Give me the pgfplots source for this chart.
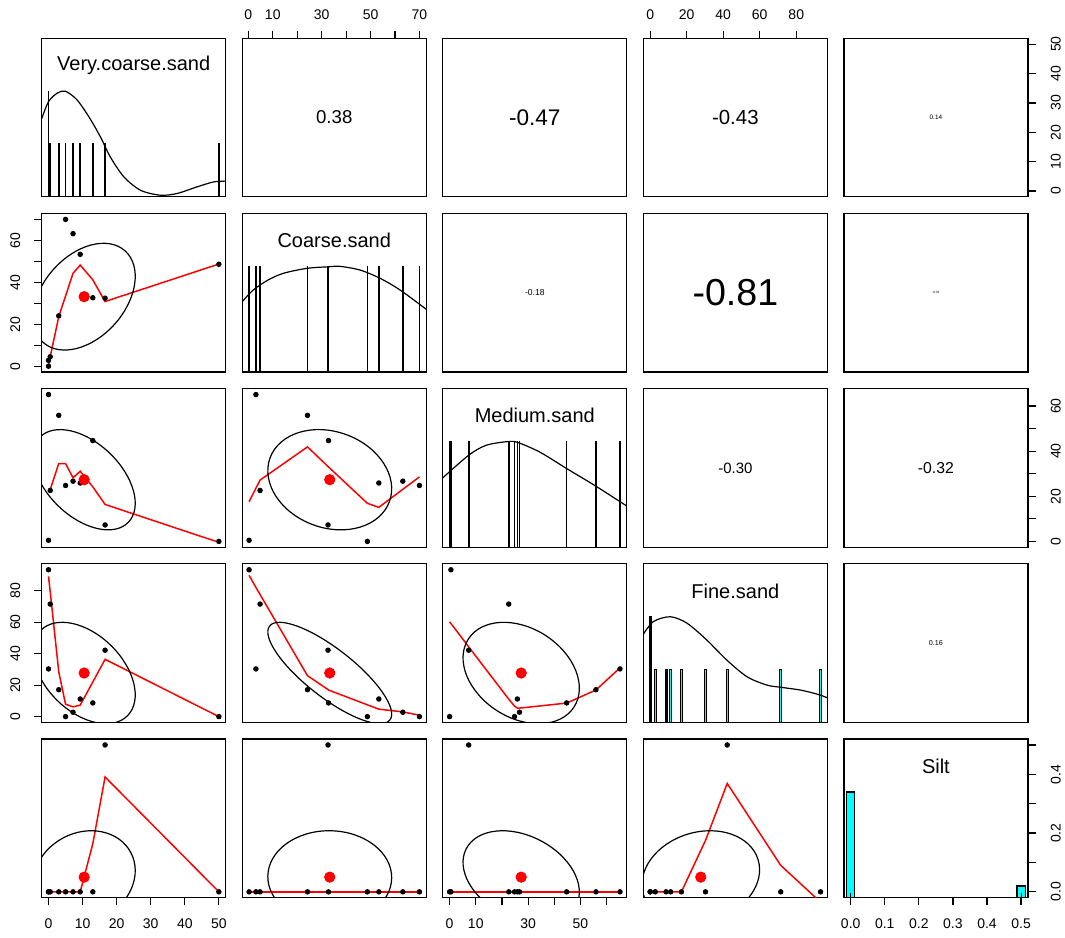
\documentclass[border=0pt]{standalone}
\usepackage{pgfplots}
\pgfplotsset{compat=1.18}
\usepackage{fontspec}
\setmainfont{Liberation Sans}

\definecolor{histcol}{RGB}{0,255,255}

\pgfplotsset{
  panel/.style={
    scale only axis, width=92pt, height=79.3pt, anchor=south west,
    xtick=\empty, ytick=\empty,
    axis line style={line width=0.6pt},
    tick style={line width=0.6pt, black},
    major tick length=3.8pt, tick align=outside,
    every tick label/.append style={font=\fontsize{7}{8}\selectfont, inner sep=0pt},
  },
  vx/.style={xmin=-2,xmax=52}, vy/.style={ymin=-2,ymax=52},
  cx/.style={xmin=-2.49,xmax=72.79}, cy/.style={ymin=-2.49,ymax=72.79},
  mx/.style={xmin=-2.6,xmax=67.7}, my/.style={ymin=-2.6,ymax=67.7},
  fx/.style={xmin=-3.73,xmax=97.03}, fy/.style={ymin=-3.73,ymax=97.03},
  sx/.style={xmin=-0.02,xmax=0.52}, sy/.style={ymin=-0.02,ymax=0.52},
  dy/.style={ymin=0,ymax=1.5},
  nox/.style={xmin=0,xmax=1}, noy/.style={ymin=0,ymax=1},
  pts/.style={only marks, mark=*, mark size=1.15pt, black},
  mean/.style={only marks, mark=*, mark size=2.6pt, red},
  smo/.style={draw=red, line width=0.75pt, mark=none},
  dens/.style={black, line width=0.6pt, smooth, mark=none},
  hist/.style={ybar, bar shift=0pt, fill=histcol, draw=black, line width=0.6pt},
  rugs/.style={ycomb, black, line width=0.3pt, mark=none},
  topax/.style={xtick pos=right, xticklabel shift=5.4pt},
  botax/.style={xtick pos=left, xticklabel shift=6.4pt},
  leftax/.style={ytick pos=left, yticklabel shift=6.7pt, yticklabel style={rotate=90, anchor=south}},
  rightax/.style={ytick pos=right, yticklabel shift=7.5pt, yticklabel style={rotate=90, anchor=north}},
}
% correlation text, size grows with |r|
\newcommand\corr[2]{\node[font=\fontsize{#1}{#1}\selectfont] at (rel axis cs:0.5,0.5) {#2};}
% correlation ellipse: centre x, centre y, semi axes (pt), angle
\newcommand\ellip[5]{\draw[black, line width=0.6pt, rotate around={#5:(axis cs:#1,#2)}] (axis cs:#1,#2) ellipse [x radius=#3pt, y radius=#4pt];}
\newcommand\vname[1]{\node[font=\fontsize{10}{12}\selectfont] at (rel axis cs:0.5,0.83) {#1};}

\begin{document}
\begin{tikzpicture}
\useasboundingbox (0,0) rectangle (532.5pt,468.5pt);

%%%%%%%%%%%%%%%% row 1
\begin{axis}[panel, vx, dy, at={(20.85pt,370.05pt)}]
  \addplot[hist, bar width=0.195] coordinates {(0,1) (0.5,0.5) (3,0.5) (5,0.5) (7.2,0.5) (9.3,0.5) (13,0.5) (16.6,0.5) (50,0.5)};
  \addplot[dens] coordinates {(-2,0.74) (0,0.90) (2.5,0.98) (4.9,1.0) (8.3,0.92) (11.8,0.76) (15.2,0.57) (18.1,0.38) (22.1,0.19) (27,0.063) (32.8,0.016) (37.7,0.032) (43.6,0.095) (48.5,0.142) (52,0.149)};
  \vname{Very.coarse.sand}
\end{axis}
\begin{axis}[panel, cx, noy, at={(121.125pt,370.05pt)}, topax, xtick={0,10,...,70}, xticklabels={0,10,,30,,50,,70}]
  \corr{9.3}{0.38}
\end{axis}
\begin{axis}[panel, nox, noy, at={(221.4pt,370.05pt)}]
  \corr{11.3}{-0.47}
\end{axis}
\begin{axis}[panel, fx, noy, at={(321.675pt,370.05pt)}, topax, xtick={0,20,...,80}, xticklabels={0,20,40,60,80}]
  \corr{10.2}{-0.43}
\end{axis}
\begin{axis}[panel, nox, vy, at={(421.95pt,370.05pt)}, rightax, ytick={0,10,...,50}, yticklabels={0,10,20,30,40,50}]
  \corr{3.2}{0.14}
\end{axis}

%%%%%%%%%%%%%%%% row 2
\begin{axis}[panel, vx, cy, at={(20.85pt,282.45pt)}, leftax, ytick={0,10,...,70}, yticklabels={0,,20,,40,,60,}]
  \addplot[pts] coordinates {(0,0.3) (0,3.1) (0.5,4.8) (3,24.2) (5,70) (7.2,63.2) (9.3,53.4) (13,32.8) (16.6,32.6) (50,48.7)};
  \addplot[smo] coordinates {(0,0.8) (0.5,4.8) (3,23.8) (5,33.6) (7.2,44.4) (9.3,48.3) (13,41.3) (16.6,31) (50,48.8)};
  \addplot[mean] coordinates {(10.46,33.31)};
  \ellip{10.46}{33.31}{30.71}{20.53}{48.3}
\end{axis}
\begin{axis}[panel, cx, dy, at={(121.125pt,282.45pt)}]
  \addplot[hist, bar width=0.088] coordinates {(0.3,1) (3.1,1) (4.8,1) (24.2,1) (32.6,1) (32.8,1) (48.7,1) (53.4,1) (63.2,1) (70,1)};
  \addplot[dens] coordinates {(-2.49,0.666) (2.0,0.776) (8,0.87) (14.3,0.934) (23.9,0.981) (32.7,0.996) (37.5,1.0) (45.7,0.965) (53.9,0.887) (62.1,0.776) (72.79,0.594)};
  \vname{Coarse.sand}
\end{axis}
\begin{axis}[panel, nox, noy, at={(221.4pt,282.45pt)}]
  \corr{4.3}{-0.18}
\end{axis}
\begin{axis}[panel, nox, noy, at={(321.675pt,282.45pt)}]
  \corr{18.8}{-0.81}
\end{axis}
\begin{axis}[panel, nox, noy, at={(421.95pt,282.45pt)}]
  \corr{1.6}{-0.01}
\end{axis}

%%%%%%%%%%%%%%%% row 3
\begin{axis}[panel, vx, my, at={(20.85pt,194.85pt)}]
  \addplot[pts] coordinates {(0,0.5) (0,65.1) (0.5,22.6) (3,55.9) (5,24.8) (7.2,26.7) (9.3,25.9) (13,44.7) (16.6,7.3) (50,0)};
  \addplot[smo] coordinates {(0,22.0) (0.5,23.0) (3,34.5) (5,34.5) (7.2,28.2) (9.3,31.1) (13,24.2) (16.6,16.4) (50,-0.4)};
  \addplot[mean] coordinates {(10.46,27.35)};
  \ellip{10.46}{27.35}{30.68}{18.42}{-43.84}
\end{axis}
\begin{axis}[panel, cx, my, at={(121.125pt,194.85pt)}]
  \addplot[pts] coordinates {(0.3,0.5) (3.1,65.1) (4.8,22.6) (24.2,55.9) (70,24.8) (63.2,26.7) (53.4,25.9) (32.8,44.7) (32.6,7.3) (48.7,0)};
  \addplot[smo] coordinates {(0.3,17.6) (3.1,23.6) (4.8,27.2) (24.2,41.9) (32.6,33.2) (32.8,33.0) (48.7,16.9) (53.4,15.1) (63.2,23.1) (70,28.6)};
  \addplot[mean] coordinates {(33.31,27.35)};
  \ellip{33.31}{27.35}{31.78}{24.02}{-20.08}
\end{axis}
\begin{axis}[panel, mx, dy, at={(221.4pt,194.85pt)}]
  \addplot[hist, bar width=0.22] coordinates {(0,1) (0.5,1) (7.3,1) (22.6,1) (24.8,1) (25.9,1) (26.7,1) (44.7,1) (55.9,1) (65.1,1)};
  \addplot[dens] coordinates {(-2.6,0.657) (7.3,0.871) (14,0.965) (22.3,1.0) (26.2,0.99) (34.5,0.90) (44.7,0.745) (55.9,0.578) (67.7,0.39)};
  \vname{Medium.sand}
\end{axis}
\begin{axis}[panel, nox, noy, at={(321.675pt,194.85pt)}]
  \corr{7.5}{-0.30}
\end{axis}
\begin{axis}[panel, nox, my, at={(421.95pt,194.85pt)}, rightax, ytick={0,10,...,60}, yticklabels={0,,20,,40,,60}]
  \corr{7.9}{-0.32}
\end{axis}

%%%%%%%%%%%%%%%% row 4
\begin{axis}[panel, vx, fy, at={(20.85pt,107.25pt)}, leftax, ytick={0,20,...,80}, yticklabels={0,20,40,60,80}]
  \addplot[pts] coordinates {(0,93.3) (0,30.3) (0.5,71.5) (3,17.1) (5,0) (7.2,2.8) (9.3,11.2) (13,8.7) (16.6,42.2) (50,0)};
  \addplot[smo] coordinates {(0,89.1) (0.5,79.4) (3,28.5) (5,7.9) (7.2,6.2) (9.3,7.3) (13,22.0) (16.6,36.4) (50,0)};
  \addplot[mean] coordinates {(10.46,27.71)};
  \ellip{10.46}{27.71}{30.43}{19.21}{-44.5}
\end{axis}
\begin{axis}[panel, cx, fy, at={(121.125pt,107.25pt)}]
  \addplot[pts] coordinates {(0.3,93.3) (3.1,30.3) (4.8,71.5) (24.2,17.1) (70,0) (63.2,2.8) (53.4,11.2) (32.8,8.7) (32.6,42.2) (48.7,0)};
  \addplot[smo] coordinates {(0.3,89.8) (3.1,82.1) (4.8,77.6) (24.2,26.0) (32.6,17.2) (32.8,16.9) (48.7,7.5) (53.4,4.75) (63.2,3.0) (70,0.9)};
  \addplot[mean] coordinates {(33.31,27.71)};
  \ellip{33.31}{27.71}{38.16}{12.06}{-38.01}
\end{axis}
\begin{axis}[panel, mx, fy, at={(221.4pt,107.25pt)}]
  \addplot[pts] coordinates {(0.5,93.3) (65.1,30.3) (22.6,71.5) (55.9,17.1) (24.8,0) (26.7,2.8) (25.9,11.2) (44.7,8.7) (7.3,42.2) (0,0)};
  \addplot[smo] coordinates {(0,60.2) (0.5,59.2) (7.3,44.3) (22.6,11.1) (24.8,6.7) (25.9,5.4) (26.7,5.4) (44.7,8.6) (55.9,16.9) (65.1,31)};
  \addplot[mean] coordinates {(27.35,27.71)};
  \ellip{27.35}{27.71}{31.42}{22.38}{-32.67}
\end{axis}
\begin{axis}[panel, fx, dy, at={(321.675pt,107.25pt)}]
  \addplot[hist, bar width=0.98] coordinates {(0,1) (2.8,0.5) (8.7,0.5) (11.2,0.5) (17.1,0.5) (30.3,0.5) (42.2,0.5) (71.5,0.5) (93.3,0.5)};
  \addplot[dens] coordinates {(-3.73,0.835) (1.8,0.955) (11,1.0) (20.1,0.94) (31,0.78) (42,0.59) (53,0.433) (63.9,0.354) (72,0.332) (82.2,0.307) (91.3,0.269) (97.03,0.234)};
  \vname{Fine.sand}
\end{axis}
\begin{axis}[panel, nox, noy, at={(421.95pt,107.25pt)}]
  \corr{3.6}{0.16}
\end{axis}

%%%%%%%%%%%%%%%% row 5
\begin{axis}[panel, vx, sy, at={(20.85pt,19.65pt)}, botax, xtick={0,10,...,50}, xticklabels={0,10,20,30,40,50}]
  \addplot[pts] coordinates {(0,0) (0,0) (0.5,0) (3,0) (5,0) (7.2,0) (9.3,0) (13,0) (16.6,0.5) (50,0)};
  \addplot[smo] coordinates {(0,0) (0.5,0) (3,0) (5,0) (7.2,0) (9.3,0) (13,0.164) (16.6,0.391) (50,0)};
  \addplot[mean] coordinates {(10.46,0.05)};
  \ellip{10.46}{0.05}{26.38}{22.24}{27.74}
\end{axis}
\begin{axis}[panel, cx, sy, at={(121.125pt,19.65pt)}]
  \addplot[pts] coordinates {(0.3,0) (3.1,0) (4.8,0) (24.2,0) (70,0) (63.2,0) (53.4,0) (32.8,0) (32.6,0.5) (48.7,0)};
  \addplot[smo] coordinates {(0.3,0) (3.1,0) (4.8,0) (24.2,0) (32.6,0) (32.8,0) (48.7,0) (53.4,0) (63.2,0) (70,0)};
  \addplot[mean] coordinates {(33.31,0.05)};
  \ellip{33.31}{0.05}{30.97}{23.20}{-0.98}
\end{axis}
\begin{axis}[panel, mx, sy, at={(221.4pt,19.65pt)}, botax, xtick={0,10,...,60}, xticklabels={0,10,,30,,50,}]
  \addplot[pts] coordinates {(0.5,0) (65.1,0) (22.6,0) (55.9,0) (24.8,0) (26.7,0) (25.9,0) (44.7,0) (7.3,0.5) (0,0)};
  \addplot[smo] coordinates {(0,0) (0.5,0) (7.3,0) (22.6,0) (24.8,0) (25.9,0) (26.7,0) (44.7,0) (55.9,0) (65.1,0)};
  \addplot[mean] coordinates {(27.35,0.05)};
  \ellip{27.35}{0.05}{30.93}{20.66}{-27.27}
\end{axis}
\begin{axis}[panel, fx, sy, at={(321.675pt,19.65pt)}]
  \addplot[pts] coordinates {(93.3,0) (30.3,0) (71.5,0) (17.1,0) (0,0) (2.8,0) (11.2,0) (8.7,0) (42.2,0.5) (0,0)};
  \addplot[smo] coordinates {(0,0) (2.8,0) (8.7,0) (11.2,0) (17.1,0) (30.3,0.175) (42.2,0.369) (71.5,0.09) (93.3,-0.035)};
  \addplot[mean] coordinates {(27.71,0.05)};
  \ellip{27.71}{0.05}{29.97}{22.47}{16.87}
\end{axis}
\begin{axis}[panel, sx, dy, at={(421.95pt,19.65pt)}, botax, xtick={0,0.1,0.2,0.3,0.4,0.5}, xticklabels={0.0,0.1,0.2,0.3,0.4,0.5}]
  \addplot[hist, bar width=0.0244] coordinates {(0,1) (0.5,0.1111)};
  \addplot[rugs] coordinates {(0,0.045) (0.5,0.045)};
  \vname{Silt}
\end{axis}
\begin{axis}[panel, sx, sy, at={(421.95pt,19.65pt)}, rightax, ytick={0,0.1,0.2,0.3,0.4,0.5}, yticklabels={0.0,,0.2,,0.4,}]
\end{axis}
\end{tikzpicture}
\end{document}
